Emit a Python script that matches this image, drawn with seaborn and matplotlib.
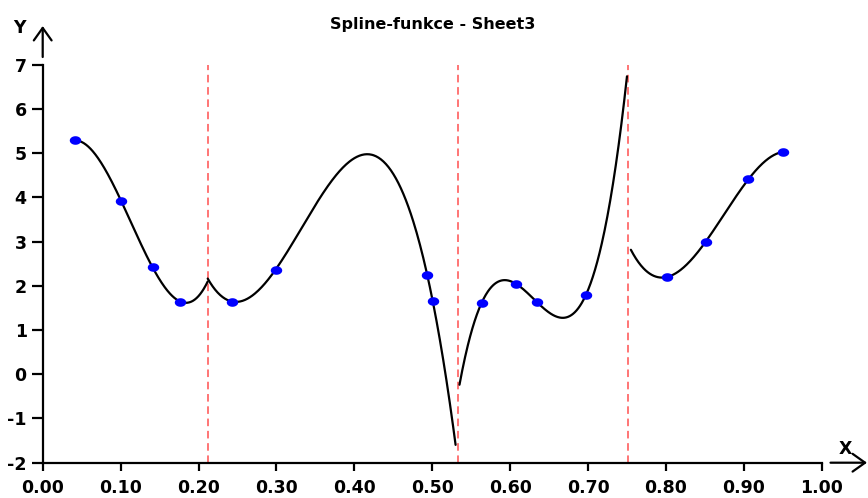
import numpy as np
import pandas as pd
import matplotlib
matplotlib.use("Agg")
import matplotlib.pyplot as plt
from matplotlib.path import Path
import seaborn as sns

# ---- data -------------------------------------------------------------
title = "Spline-funkce - Sheet3"

# knot positions separating the spline pieces
knots = [0.2118, 0.5327, 0.7517]

# measured points
point_x = [0.0415, 0.1005, 0.141, 0.1766,
           0.2434, 0.299, 0.4937, 0.5006,
           0.5635, 0.6072, 0.6349, 0.6974,
           0.801, 0.851, 0.9058, 0.950]
point_y = [5.29, 3.93, 2.42, 1.645,
           1.645, 2.37, 2.24, 1.66,
           1.62, 2.05, 1.625, 1.80,
           2.20, 3.00, 4.41, 5.03]
point_piece = [0, 0, 0, 0, 1, 1, 1, 1, 2, 2, 2, 2, 3, 3, 3, 3]

# x-range over which each cubic piece is evaluated
piece_start = [0.0415, 0.2118, 0.535, 0.755]
piece_end = [0.2118, 0.530, 0.750, 0.950]

x_ticks = [0.0, 0.1, 0.2, 0.3, 0.4, 0.5, 0.6, 0.7, 0.8, 0.9, 1.0]
y_ticks = [-2, -1, 0, 1, 2, 3, 4, 5, 6, 7]

# ---- spline pieces: cubic through the points of each interval ---------
points = pd.DataFrame({"x": point_x, "y": point_y, "piece": point_piece})
frames = []
for k, grp in points.groupby("piece"):
    coef = np.polyfit(grp["x"], grp["y"], 3)
    xs = np.linspace(piece_start[k], piece_end[k], 300)
    frames.append(pd.DataFrame({"x": xs, "y": np.polyval(coef, xs), "piece": k}))
curve = pd.concat(frames, ignore_index=True)

# ---- styling ----------------------------------------------------------
sns.set_theme(style="white")
plt.rcParams["font.family"] = ["DejaVu Sans"]
plt.rcParams["font.weight"] = "bold"

fig = plt.figure(figsize=(8.68, 4.98), dpi=100)
ax = fig.add_axes([0.0492, 0.0709, 0.8975, 0.7988])

for k in knots:
    ax.axvline(k, color="#ff6a6a", lw=1.3, ls=(0, (4.2, 2.6)), zorder=1)

sns.lineplot(data=curve, x="x", y="y", units="piece", estimator=None,
             sort=False, color="black", lw=1.6, ax=ax, zorder=2)

theta = np.linspace(0, 2 * np.pi, 48)
oval = Path(np.column_stack([np.cos(theta), 0.75 * np.sin(theta)]), closed=True)
sns.scatterplot(data=points, x="x", y="y", color="#0000ff", marker=oval,
                s=68, linewidth=0, ax=ax, zorder=3)

ax.set_xlim(0, 1)
ax.set_ylim(-2, 7)
ax.set_xlabel("")
ax.set_ylabel("")
ax.set_xticks(x_ticks)
ax.set_xticklabels([f"{v:.2f}" for v in x_ticks])
ax.set_yticks(y_ticks)
ax.set_yticklabels([str(v) for v in y_ticks])
ax.grid(False)
for side in ("top", "right"):
    ax.spines[side].set_visible(False)
for side in ("left", "bottom"):
    ax.spines[side].set_color("black")
    ax.spines[side].set_linewidth(1.6)
ax.tick_params(axis="x", bottom=True, direction="out", length=6, width=1.6,
               pad=6, labelsize=12.5, colors="black")
ax.tick_params(axis="y", left=True, direction="out", length=8, width=1.6,
               pad=3.5, labelsize=12.5, colors="black")

# axis arrows and their letters
arrow = dict(arrowstyle="->,head_length=0.45,head_width=0.32", lw=1.6,
             color="black", shrinkA=0, shrinkB=0, mutation_scale=20)
ax.annotate("", xy=(867, 35.3), xytext=(830.5, 35.3),
            xycoords="figure pixels", textcoords="figure pixels",
            arrowprops=arrow, annotation_clip=False)
ax.annotate("", xy=(42.7, 472), xytext=(42.7, 441),
            xycoords="figure pixels", textcoords="figure pixels",
            arrowprops=arrow, annotation_clip=False)
fig.text(19 / 868, 1 - 28 / 498, "Y", ha="center", va="center",
         fontsize=12.5, fontweight="bold", color="black")
fig.text(845 / 868, 1 - 449 / 498, "X", ha="center", va="center",
         fontsize=12.5, fontweight="bold", color="black")

fig.text(433 / 868, 1 - 25 / 498, title, ha="center", va="center",
         fontsize=11.5, fontweight="bold", color="black")

fig.savefig("out.png", dpi=100)
